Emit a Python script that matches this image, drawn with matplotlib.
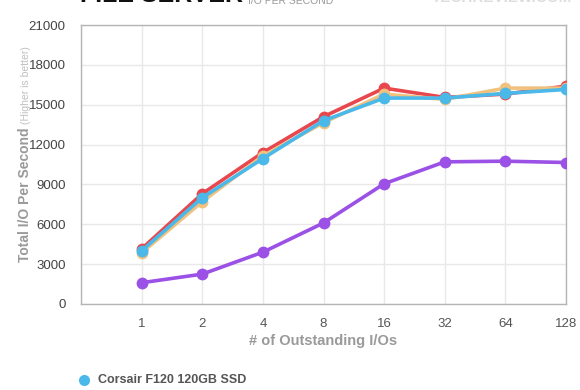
import numpy as np
import matplotlib.pyplot as plt

# queue depths (# of outstanding I/Os)
queue_depths = ["1", "2", "4", "8", "16", "32", "64", "128"]

# IOPS per drive
iops_purple = [1600, 2250, 3900, 6100, 9050, 10700, 10750, 10650]
iops_red = [4150, 8300, 11400, 14100, 16250, 15550, 15800, 16400]
iops_tan = [3850, 7700, 11150, 13650, 15800, 15400, 16250, 16250]
iops_blue = [4000, 8000, 10950, 13800, 15500, 15500, 15850, 16150]

legend_label = "Corsair F120 120GB SSD"

plt.rcParams["font.family"] = ["Liberation Sans", "DejaVu Sans"]

fig = plt.figure(figsize=(5.8, 3.9), dpi=100)
ax = fig.add_axes([81 / 580, 1 - 304 / 390, (566 - 81) / 580, (304 - 25) / 390])

x = np.arange(len(queue_depths))
series = [
    (iops_purple, "#9b50e6"),
    (iops_red, "#e8484d"),
    (iops_tan, "#f0c27e"),
    (iops_blue, "#4bb8ea"),
]
for vals, col in series:
    ax.plot(x, vals, color=col, lw=2.6, marker="o", ms=8.5,
            markeredgewidth=0, solid_capstyle="round", zorder=3)

ax.set_xlim(-1, len(queue_depths) - 1)
ax.set_ylim(0, 21000)
ax.set_yticks(np.arange(0, 21001, 3000))
ax.set_xticks(x)
ax.set_xticklabels(queue_depths)
ax.set_xticks(np.arange(-1, len(queue_depths)), minor=True)
ax.grid(True, which="minor", axis="x", color="#e8e8e8", lw=1)
ax.grid(True, which="major", axis="y", color="#e8e8e8", lw=1)
ax.grid(True, which="major", axis="x", color="#e8e8e8", lw=1)
ax.set_axisbelow(True)
ax.tick_params(which="both", length=0)
ax.tick_params(axis="y", pad=11, labelsize=9.5, labelcolor="#444444")
ax.tick_params(axis="x", pad=10, labelsize=9.5, labelcolor="#555555")
for s in ax.spines.values():
    s.set_color("#b5b5b5")
    s.set_linewidth(1)

fig.text(323 / 580, 1 - 341 / 390, "# of Outstanding I/Os", ha="center",
         va="center", fontsize=10.5, color="#9a9a9a", fontweight="bold")

# y label in two parts
fig.text(25 / 580, 1 - 195 / 390, "Total I/O Per Second", rotation=90,
         ha="center", va="center", fontsize=10, color="#9a9a9a", fontweight="bold")
fig.text(26 / 580, 1 - 85 / 390, "(Higher is better)", rotation=90,
         ha="center", va="center", fontsize=7.5, color="#c0c0c0")

# title, cut off at the top edge
fig.text(80 / 580, 1 - 7 / 390, "FILE SERVER", ha="left", va="bottom",
         fontsize=18, fontweight="bold", color="#111111")
fig.text(248 / 580, 1 - 6 / 390, "I/O PER SECOND", ha="left", va="bottom",
         fontsize=7.5, color="#9a9a9a")
fig.text(572 / 580, 1 - 5 / 390, "TECHREVIEW.COM", ha="right", va="bottom",
         fontsize=11, fontweight="bold", color="#dddddd")

# legend (only first entry visible)
fig.lines.append(plt.Line2D([84 / 580], [1 - 380 / 390], marker="o", ms=8,
                            color="#4bb8ea", markeredgewidth=0,
                            transform=fig.transFigure))
fig.text(98 / 580, 1 - 380 / 390, legend_label, ha="left", va="center",
         fontsize=9, color="#555555", fontweight="bold")

fig.savefig("out.png", dpi=100)
